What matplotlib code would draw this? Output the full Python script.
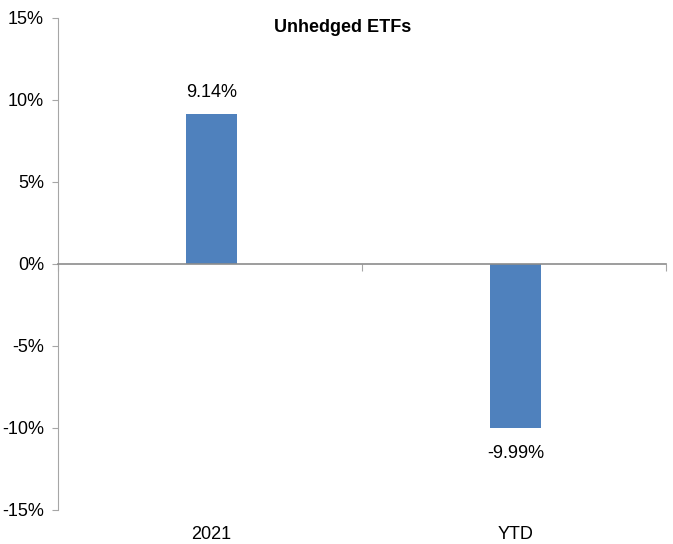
import matplotlib.pyplot as plt
from matplotlib.ticker import FuncFormatter
import matplotlib.transforms as mtransforms

plt.rcParams['font.family'] = ['Liberation Sans Narrow', 'Liberation Sans', 'DejaVu Sans']

categories = ['2021', 'YTD']
returns = [9.14, -9.99]
bar_labels = ['9.14%', '-9.99%']

fig = plt.figure(figsize=(6.73, 5.44), dpi=100)
ax = fig.add_axes([58 / 673, 1 - 510 / 544, (666 - 58) / 673, (510 - 18) / 544])

x = [0.505, 1.505]
ax.bar(x, returns, width=0.168, color='#4F81BD', zorder=2)

ax.set_xlim(0, 2)
ax.set_ylim(-15, 15)
ax.set_yticks(range(-15, 16, 5))
ax.yaxis.set_major_formatter(FuncFormatter(lambda v, p: f'{v:.0f}%'))
ax.tick_params(axis='y', labelsize=13, length=4, color='#A6A6A6', pad=6)

# zero line acting as category axis
ax.spines['bottom'].set_position(('data', 0))
ax.spines['bottom'].set_color('#8C8C8C')
ax.spines['bottom'].set_linewidth(1.2)
ax.set_xticks([0, 1, 2])
ax.set_xticklabels([])
ax.tick_params(axis='x', length=5, color='#A6A6A6', direction='out')
ax.spines['left'].set_color('#A6A6A6')
ax.spines['top'].set_visible(False)
ax.spines['right'].set_visible(False)

trans = mtransforms.blended_transform_factory(ax.transData, ax.transAxes)
for xi, cat in zip(x, categories):
    ax.text(xi, -0.05, cat, transform=trans, ha='center', va='center', fontsize=13)

for xi, v, lab in zip(x, returns, bar_labels):
    if v >= 0:
        ax.text(xi, v + 1.3, lab, ha='center', va='center', fontsize=13)
    else:
        ax.text(xi, v - 1.55, lab, ha='center', va='center', fontsize=13)

fig.text(343 / 673, 1 - 27 / 544, 'Unhedged ETFs', ha='center', va='center',
         fontsize=13, fontweight='bold')

fig.savefig('out.png', dpi=100)
